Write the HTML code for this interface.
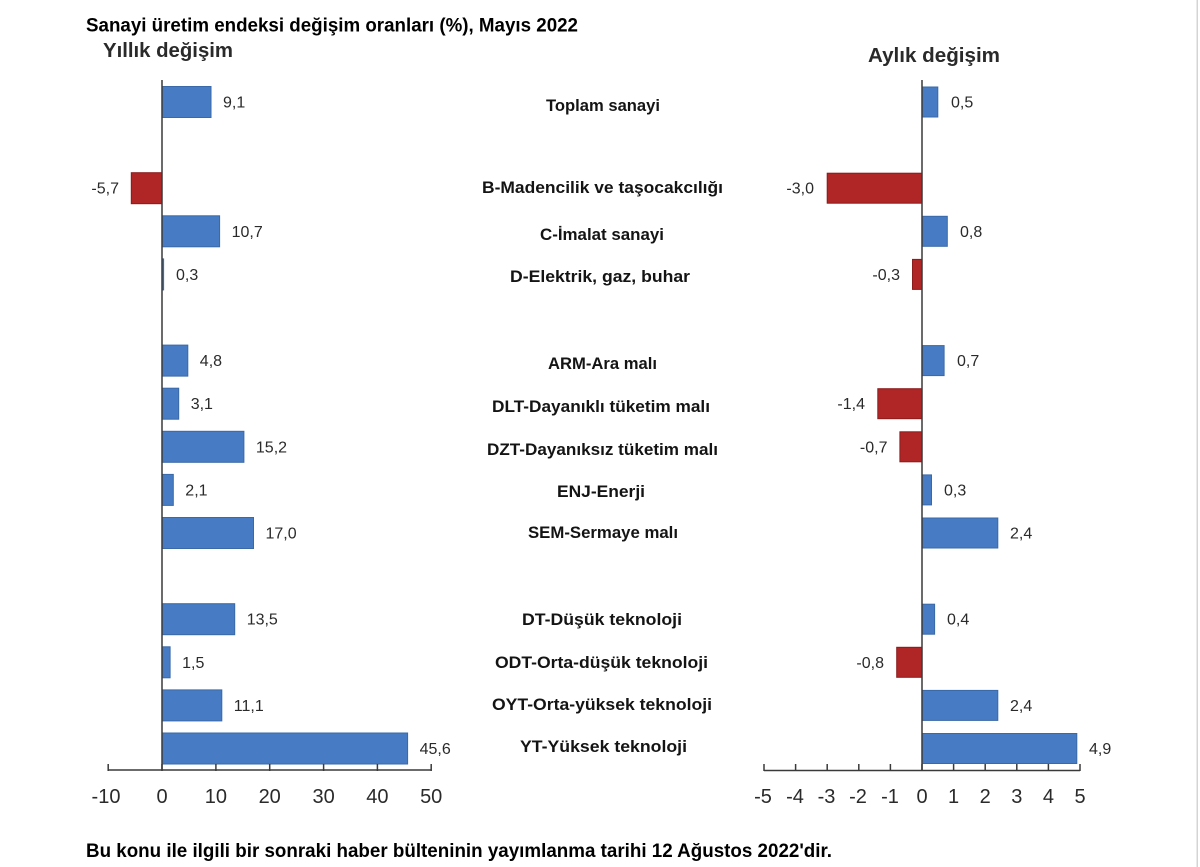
<!DOCTYPE html>
<html><head><meta charset="utf-8"><style>
html,body{margin:0;padding:0;background:#fff;}
svg{display:block;}
text{font-family:"Liberation Sans",Arial,sans-serif;}
</style></head><body>
<svg width="1200" height="867" viewBox="0 0 1200 867" xmlns="http://www.w3.org/2000/svg">
<rect x="0" y="0" width="1200" height="867" fill="#fff"/>
<rect x="1196.5" y="0" width="1.5" height="867" fill="#d4d4d4"/>

<!-- Titles -->
<text x="86" y="31.5" font-size="19" font-weight="bold" fill="#000" textLength="492" lengthAdjust="spacingAndGlyphs">Sanayi üretim endeksi değişim oranları (%), Mayıs 2022</text>
<text x="103" y="57" font-size="20" font-weight="bold" fill="#2a2a2a" textLength="130" lengthAdjust="spacingAndGlyphs">Yıllık değişim</text>
<text x="868" y="62" font-size="20" font-weight="bold" fill="#2a2a2a" textLength="132" lengthAdjust="spacingAndGlyphs">Aylık değişim</text>

<!-- Left bars -->
<g stroke-width="1">
<rect x="162" y="86.5" width="49" height="31" fill="#477cc4" stroke="#3a68a8"/>
<rect x="131.3" y="172.7" width="30.7" height="31" fill="#b02525" stroke="#8c1c1c"/>
<rect x="162" y="215.8" width="57.6" height="31" fill="#477cc4" stroke="#3a68a8"/>
<rect x="162" y="258.9" width="1.6" height="31" fill="#477cc4" stroke="#3a68a8"/>
<rect x="162" y="345.1" width="25.8" height="31" fill="#477cc4" stroke="#3a68a8"/>
<rect x="162" y="388.2" width="16.7" height="31" fill="#477cc4" stroke="#3a68a8"/>
<rect x="162" y="431.3" width="81.9" height="31" fill="#477cc4" stroke="#3a68a8"/>
<rect x="162" y="474.4" width="11.3" height="31" fill="#477cc4" stroke="#3a68a8"/>
<rect x="162" y="517.5" width="91.5" height="31" fill="#477cc4" stroke="#3a68a8"/>
<rect x="162" y="603.7" width="72.7" height="31" fill="#477cc4" stroke="#3a68a8"/>
<rect x="162" y="646.8" width="8.1" height="31" fill="#477cc4" stroke="#3a68a8"/>
<rect x="162" y="689.9" width="59.8" height="31" fill="#477cc4" stroke="#3a68a8"/>
<rect x="162" y="733" width="245.6" height="31" fill="#477cc4" stroke="#3a68a8"/>
</g>

<!-- Left values -->
<g font-size="16" fill="#2a2a2a">
<text x="223" y="107.5">9,1</text>
<text x="119" y="193.7" text-anchor="end">-5,7</text>
<text x="231.6" y="236.8">10,7</text>
<text x="176" y="279.9">0,3</text>
<text x="199.8" y="366.1">4,8</text>
<text x="190.7" y="409.2">3,1</text>
<text x="255.9" y="452.3">15,2</text>
<text x="185.3" y="495.4">2,1</text>
<text x="265.5" y="538.5">17,0</text>
<text x="246.7" y="624.7">13,5</text>
<text x="182.1" y="667.8">1,5</text>
<text x="233.8" y="710.9">11,1</text>
<text x="419.6" y="754">45,6</text>
</g>

<!-- Left axes -->
<g stroke="#3a3a3a" stroke-width="1.5" fill="none">
<line x1="162" y1="80" x2="162" y2="770"/>
<line x1="108" y1="770" x2="431.3" y2="770"/>
<line x1="108.2" y1="764" x2="108.2" y2="771"/>
<line x1="162" y1="764" x2="162" y2="771"/>
<line x1="215.9" y1="764" x2="215.9" y2="771"/>
<line x1="269.7" y1="764" x2="269.7" y2="771"/>
<line x1="323.6" y1="764" x2="323.6" y2="771"/>
<line x1="377.4" y1="764" x2="377.4" y2="771"/>
<line x1="431.2" y1="764" x2="431.2" y2="771"/>
</g>
<g font-size="20" fill="#2a2a2a" text-anchor="middle">
<text x="106" y="803">-10</text>
<text x="162" y="803">0</text>
<text x="215.9" y="803">10</text>
<text x="269.7" y="803">20</text>
<text x="323.6" y="803">30</text>
<text x="377.4" y="803">40</text>
<text x="431.2" y="803">50</text>
</g>

<!-- Center labels -->
<g font-size="16.5" font-weight="bold" fill="#141414" text-anchor="middle">
<text x="603" y="111" textLength="114" lengthAdjust="spacingAndGlyphs">Toplam sanayi</text>
<text x="602.5" y="193" textLength="241" lengthAdjust="spacingAndGlyphs">B-Madencilik ve taşocakcılığı</text>
<text x="602" y="240" textLength="124" lengthAdjust="spacingAndGlyphs">C-İmalat sanayi</text>
<text x="600" y="282" textLength="180" lengthAdjust="spacingAndGlyphs">D-Elektrik, gaz, buhar</text>
<text x="602.5" y="369" textLength="109" lengthAdjust="spacingAndGlyphs">ARM-Ara malı</text>
<text x="601" y="412" textLength="218" lengthAdjust="spacingAndGlyphs">DLT-Dayanıklı tüketim malı</text>
<text x="602.5" y="455" textLength="231" lengthAdjust="spacingAndGlyphs">DZT-Dayanıksız tüketim malı</text>
<text x="601" y="497" textLength="88" lengthAdjust="spacingAndGlyphs">ENJ-Enerji</text>
<text x="603" y="538" textLength="150" lengthAdjust="spacingAndGlyphs">SEM-Sermaye malı</text>
<text x="602" y="625" textLength="160" lengthAdjust="spacingAndGlyphs">DT-Düşük teknoloji</text>
<text x="601.5" y="668" textLength="213" lengthAdjust="spacingAndGlyphs">ODT-Orta-düşük teknoloji</text>
<text x="602" y="710" textLength="220" lengthAdjust="spacingAndGlyphs">OYT-Orta-yüksek teknoloji</text>
<text x="603.5" y="752" textLength="167" lengthAdjust="spacingAndGlyphs">YT-Yüksek teknoloji</text>
</g>

<!-- Right bars -->
<g stroke-width="1">
<rect x="922" y="87" width="15.8" height="30" fill="#477cc4" stroke="#3a68a8"/>
<rect x="827.2" y="173.2" width="94.8" height="30" fill="#b02525" stroke="#8c1c1c"/>
<rect x="922" y="216.3" width="25.3" height="30" fill="#477cc4" stroke="#3a68a8"/>
<rect x="912.5" y="259.4" width="9.5" height="30" fill="#b02525" stroke="#8c1c1c"/>
<rect x="922" y="345.6" width="22.1" height="30" fill="#477cc4" stroke="#3a68a8"/>
<rect x="877.8" y="388.7" width="44.2" height="30" fill="#b02525" stroke="#8c1c1c"/>
<rect x="899.9" y="431.8" width="22.1" height="30" fill="#b02525" stroke="#8c1c1c"/>
<rect x="922" y="474.9" width="9.5" height="30" fill="#477cc4" stroke="#3a68a8"/>
<rect x="922" y="518" width="75.8" height="30" fill="#477cc4" stroke="#3a68a8"/>
<rect x="922" y="604.2" width="12.6" height="30" fill="#477cc4" stroke="#3a68a8"/>
<rect x="896.7" y="647.3" width="25.3" height="30" fill="#b02525" stroke="#8c1c1c"/>
<rect x="922" y="690.4" width="75.8" height="30" fill="#477cc4" stroke="#3a68a8"/>
<rect x="922" y="733.5" width="154.8" height="30" fill="#477cc4" stroke="#3a68a8"/>
</g>

<!-- Right values -->
<g font-size="16" fill="#2a2a2a">
<text x="951" y="107.5">0,5</text>
<text x="814" y="193.7" text-anchor="end">-3,0</text>
<text x="960" y="236.8">0,8</text>
<text x="900" y="279.9" text-anchor="end">-0,3</text>
<text x="957" y="366.1">0,7</text>
<text x="865" y="409.2" text-anchor="end">-1,4</text>
<text x="887.5" y="452.3" text-anchor="end">-0,7</text>
<text x="944" y="495.4">0,3</text>
<text x="1010" y="538.5">2,4</text>
<text x="947" y="624.7">0,4</text>
<text x="884" y="667.8" text-anchor="end">-0,8</text>
<text x="1010" y="710.9">2,4</text>
<text x="1089" y="754">4,9</text>
</g>

<!-- Right axes -->
<g stroke="#3a3a3a" stroke-width="1.5" fill="none">
<line x1="922" y1="80" x2="922" y2="771"/>
<line x1="764" y1="770.5" x2="1080" y2="770.5"/>
<line x1="764" y1="764" x2="764" y2="771"/>
<line x1="795.6" y1="764" x2="795.6" y2="771"/>
<line x1="827.2" y1="764" x2="827.2" y2="771"/>
<line x1="858.8" y1="764" x2="858.8" y2="771"/>
<line x1="890.4" y1="764" x2="890.4" y2="771"/>
<line x1="922" y1="764" x2="922" y2="771"/>
<line x1="953.6" y1="764" x2="953.6" y2="771"/>
<line x1="985.2" y1="764" x2="985.2" y2="771"/>
<line x1="1016.8" y1="764" x2="1016.8" y2="771"/>
<line x1="1048.4" y1="764" x2="1048.4" y2="771"/>
<line x1="1080" y1="764" x2="1080" y2="771"/>
</g>
<g font-size="20" fill="#2a2a2a" text-anchor="middle">
<text x="763" y="803">-5</text>
<text x="795" y="803">-4</text>
<text x="826.5" y="803">-3</text>
<text x="858" y="803">-2</text>
<text x="890" y="803">-1</text>
<text x="922" y="803">0</text>
<text x="953.6" y="803">1</text>
<text x="985.2" y="803">2</text>
<text x="1016.8" y="803">3</text>
<text x="1048.4" y="803">4</text>
<text x="1080" y="803">5</text>
</g>

<!-- Footnote -->
<text x="86" y="857" font-size="19.5" font-weight="bold" fill="#000" textLength="746" lengthAdjust="spacingAndGlyphs">Bu konu ile ilgili bir sonraki haber bülteninin yayımlanma tarihi 12 Ağustos 2022'dir.</text>
</svg>
</body></html>
